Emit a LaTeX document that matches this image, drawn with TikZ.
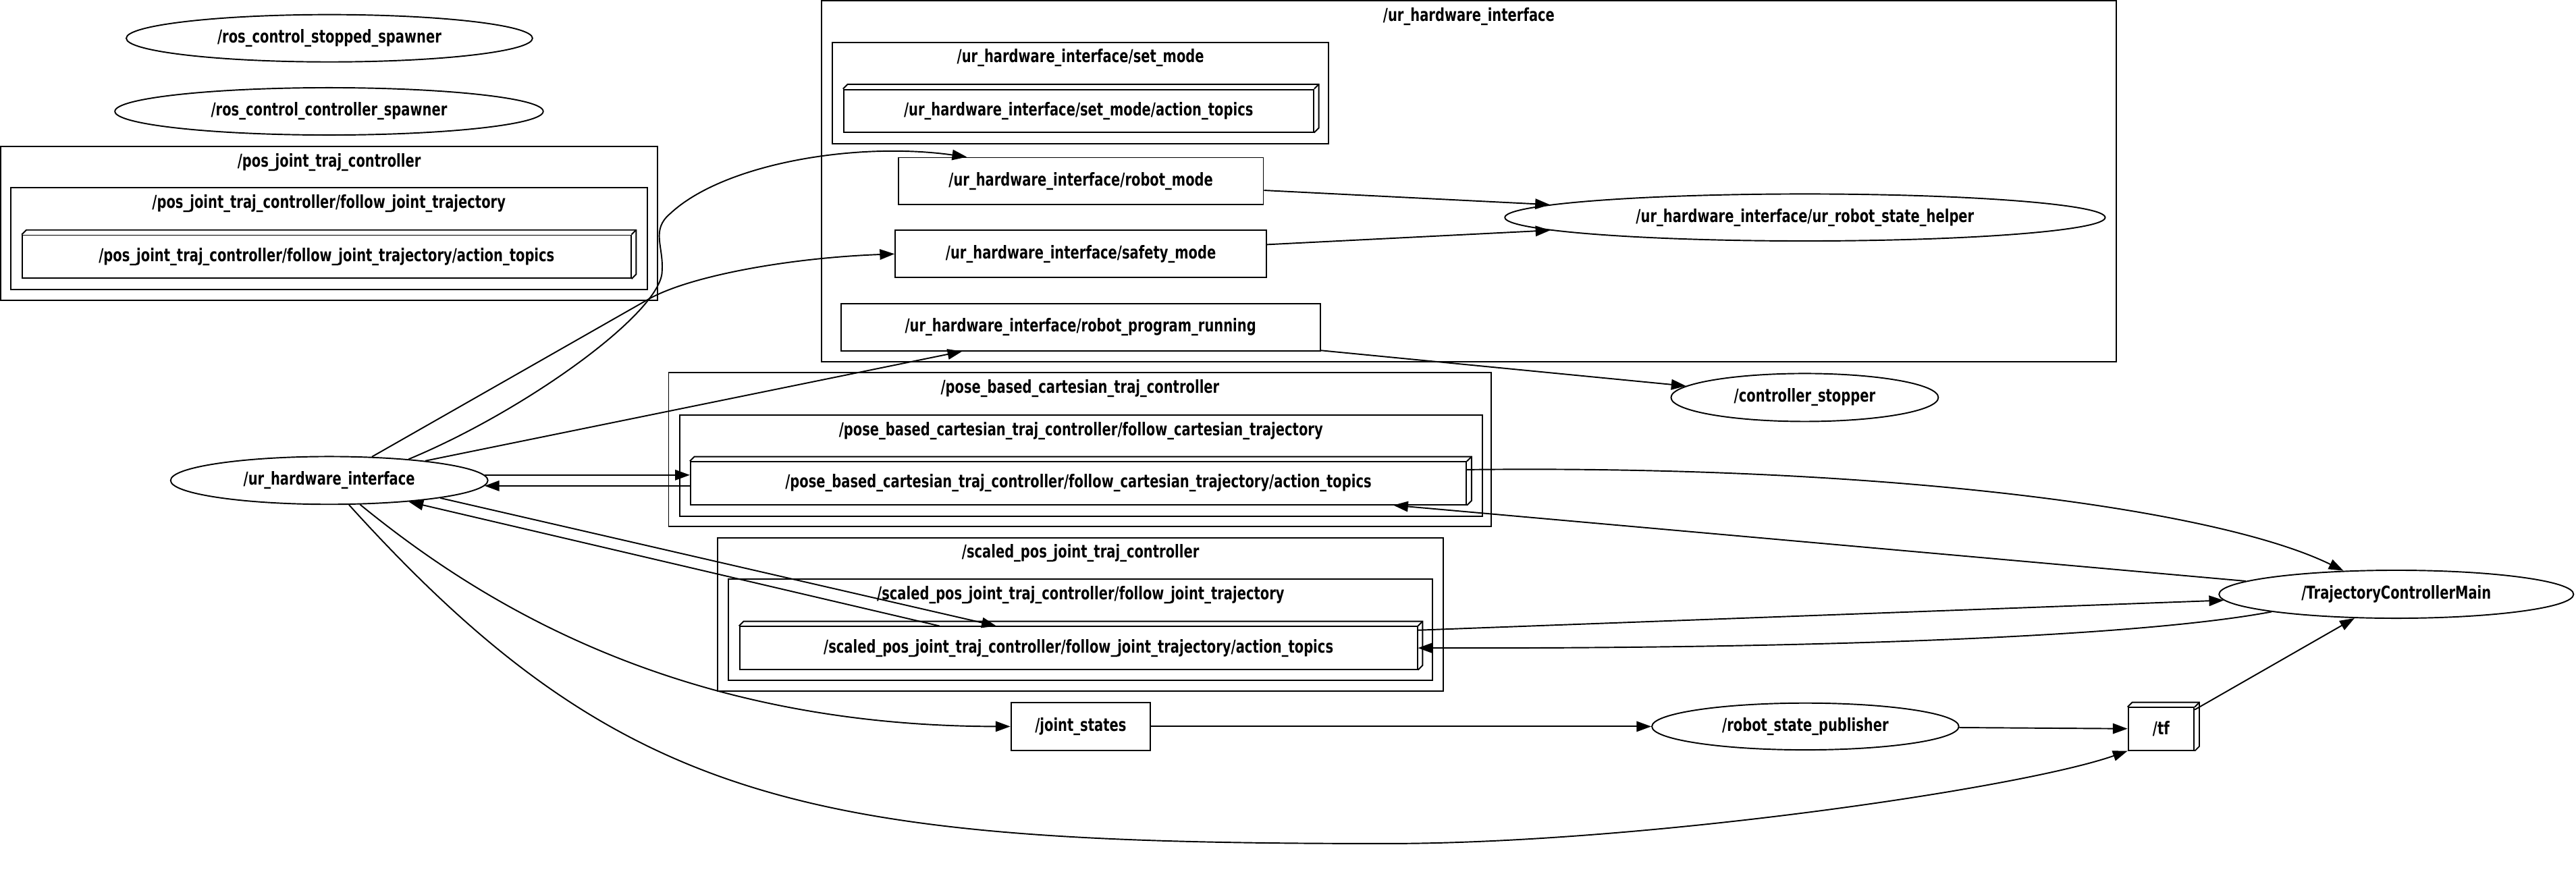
\documentclass[tikz,border=0pt]{standalone}
\usepackage{fontspec}
\newfontfamily\gvfont{DejaVu Sans}[FakeStretch=0.74]
\usetikzlibrary{arrows.meta, shapes.geometric}

\newcommand{\pu}{0.024337cm}
% back faces of a 3d topic box
\newcommand{\boxback}[1]{%
  \draw (#1.north west) -- ++(2.8,-2.8) -- ([shift={(2.8,-2.8)}]#1.north east)
    -- ([shift={(2.8,-2.8)}]#1.south east) -- (#1.south east);
  \draw (#1.north east) -- ++(2.8,-2.8);}

\tikzset{
  gv/.style={font=\gvfont\bfseries\fontsize{7.5}{9}\selectfont, inner sep=0pt},
  rosnode/.style={gv, draw, ellipse},
  topic/.style={gv, draw, rectangle},
  cluster/.style={draw, rectangle, inner sep=0pt},
  clabel/.style={gv, anchor=center, yshift=-0.245cm},
}

\begin{document}
\begin{tikzpicture}[x=\pu, y=-\pu, line width=0.55pt,
    >={Triangle[length=6.2pt,width=4.4pt]}]
  \useasboundingbox (0,0) rectangle (1568,532);

  % clusters
  \node[cluster, minimum width=788*\pu, minimum height=219.8*\pu,
        label={[clabel]north:/ur\_hardware\_interface}] (c_urhw) at (894.1,110.2) {};
  \node[cluster, minimum width=302.2*\pu, minimum height=61.9*\pu,
        label={[clabel]north:/ur\_hardware\_interface/set\_mode}] (c_setmode) at (657.7,56.65) {};
  \node[cluster, minimum width=400.1*\pu, minimum height=93.9*\pu,
        label={[clabel]north:/pos\_joint\_traj\_controller}] (c_pos) at (200.35,135.95) {};
  \node[cluster, minimum width=387.4*\pu, minimum height=61.9*\pu,
        label={[clabel]north:/pos\_joint\_traj\_controller/follow\_joint\_trajectory}] (c_posfjt) at (200.2,145.35) {};
  \node[cluster, minimum width=500.8*\pu, minimum height=93.7*\pu,
        label={[clabel]north:/pose\_based\_cartesian\_traj\_controller}] (c_pose) at (657.4,273.75) {};
  \node[cluster, minimum width=488.5*\pu, minimum height=61.5*\pu,
        label={[clabel]north:/pose\_based\_cartesian\_traj\_controller/follow\_cartesian\_trajectory}] (c_posefct) at (657.95,283.45) {};
  \node[cluster, minimum width=441.8*\pu, minimum height=93.3*\pu,
        label={[clabel]north:/scaled\_pos\_joint\_traj\_controller}] (c_scaled) at (657.7,373.95) {};
  \node[cluster, minimum width=428.6*\pu, minimum height=61.6*\pu,
        label={[clabel]north:/scaled\_pos\_joint\_traj\_controller/follow\_joint\_trajectory}] (c_scaledfjt) at (657.8,383.5) {};

  % nodes
  \node[rosnode, minimum width=247.3*\pu, minimum height=28.8*\pu] (stopped) at (200.5,23.3) {/ros\_control\_stopped\_spawner};
  \node[rosnode, minimum width=260.7*\pu, minimum height=28.8*\pu] (spawner) at (200.3,67.8) {/ros\_control\_controller\_spawner};
  \node[rosnode, minimum width=193.1*\pu, minimum height=29.1*\pu] (urhw) at (200.4,292.5) {/ur\_hardware\_interface};
  \node[rosnode, minimum width=365.4*\pu, minimum height=28.6*\pu] (helper) at (1098.7,132.4) {/ur\_hardware\_interface/ur\_robot\_state\_helper};
  \node[rosnode, minimum width=162.7*\pu, minimum height=29.2*\pu] (stopper) at (1098.5,242) {/controller\_stopper};
  \node[rosnode, minimum width=186.8*\pu, minimum height=28.5*\pu] (rsp) at (1098.9,442.3) {/robot\_state\_publisher};
  \node[rosnode, minimum width=215.8*\pu, minimum height=29.2*\pu] (tcm) at (1458.6,361.8) {/TrajectoryControllerMain};

  % topics
  \node[topic, minimum width=222.2*\pu, minimum height=28.7*\pu] (robotmode) at (657.9,110.3) {/ur\_hardware\_interface/robot\_mode};
  \node[topic, minimum width=226*\pu, minimum height=28.8*\pu] (safety) at (657.9,154.6) {/ur\_hardware\_interface/safety\_mode};
  \node[topic, minimum width=291.7*\pu, minimum height=28.6*\pu] (rpr) at (657.7,199.2) {/ur\_hardware\_interface/robot\_program\_running};
  \node[topic, minimum width=84.9*\pu, minimum height=29.1*\pu] (js) at (657.8,442.3) {/joint\_states};

  % action topics and tf (3d boxes)
  \node[topic, minimum width=286*\pu, minimum height=25.9*\pu] (setmodeat) at (656.5,67.45) {/ur\_hardware\_interface/set\_mode/action\_topics};
  \node[topic, minimum width=370.4*\pu, minimum height=26.2*\pu] (posat) at (198.8,156.3) {/pos\_joint\_traj\_controller/follow\_joint\_trajectory/action\_topics};
  \node[topic, minimum width=472.2*\pu, minimum height=26*\pu] (poseat) at (656.4,294.2) {/pose\_based\_cartesian\_traj\_controller/follow\_cartesian\_trajectory/action\_topics};
  \node[topic, minimum width=412.5*\pu, minimum height=26*\pu] (scaledat) at (656.45,394.5) {/scaled\_pos\_joint\_traj\_controller/follow\_joint\_trajectory/action\_topics};
  \node[topic, minimum width=40.1*\pu, minimum height=26*\pu] (tf) at (1315.45,443.8) {/tf};
  \boxback{setmodeat}
  \boxback{posat}
  \boxback{poseat}
  \boxback{scaledat}
  \boxback{tf}

  % edges
  \draw[->] (urhw.29.5) -- (395,182) .. controls (420,168) and (480,157) .. (safety.west);
  \draw[->] (urhw.15.7) .. controls (320,250) and (403,190) .. (403,165)
    .. controls (404,150) and (396,140) .. (408,130)
    .. controls (440,100) and (520,86) .. (robotmode.168.3);
  \draw[->] (urhw) -- (rpr);
  \draw[->] (urhw.2.6) -- (urhw.2.6 -| poseat.west);
  \draw[->] (urhw.-2.9 -| poseat.west) -- (urhw.-2.9);
  \draw[->] (urhw.-9.1) -- (scaledat.165.6);
  \draw[->] (scaledat.171.5) -- (urhw.-15.6);
  \draw[->] (urhw.-38.7) .. controls (290,365) and (410,442) .. (js.west);
  \draw[->] (urhw.-51.1) .. controls (380,492.5) and (494,513.6) .. (844,513.6)
    .. controls (1000,513.6) and (1230,480) .. (tf.south west);
  \draw[->] (robotmode) -- (helper);
  \draw[->] (safety) -- (helper);
  \draw[->] (rpr) -- (stopper);
  \draw[->] (poseat.2.6) .. controls (1150,283) and (1350,310) .. (tcm.156.4);
  \draw[->] (tcm.175.4) -- (poseat.-4.3);
  \draw[->] (scaledat.3) -- (tcm.182.4);
  \draw[->] (tcm.188.4) .. controls (1300,388) and (1100,395) .. (scaledat.east);
  \draw[->] (js) -- (rsp);
  \draw[->] (rsp) -- (tf);
  \draw[->] (tf) -- (tcm);
\end{tikzpicture}
\end{document}
